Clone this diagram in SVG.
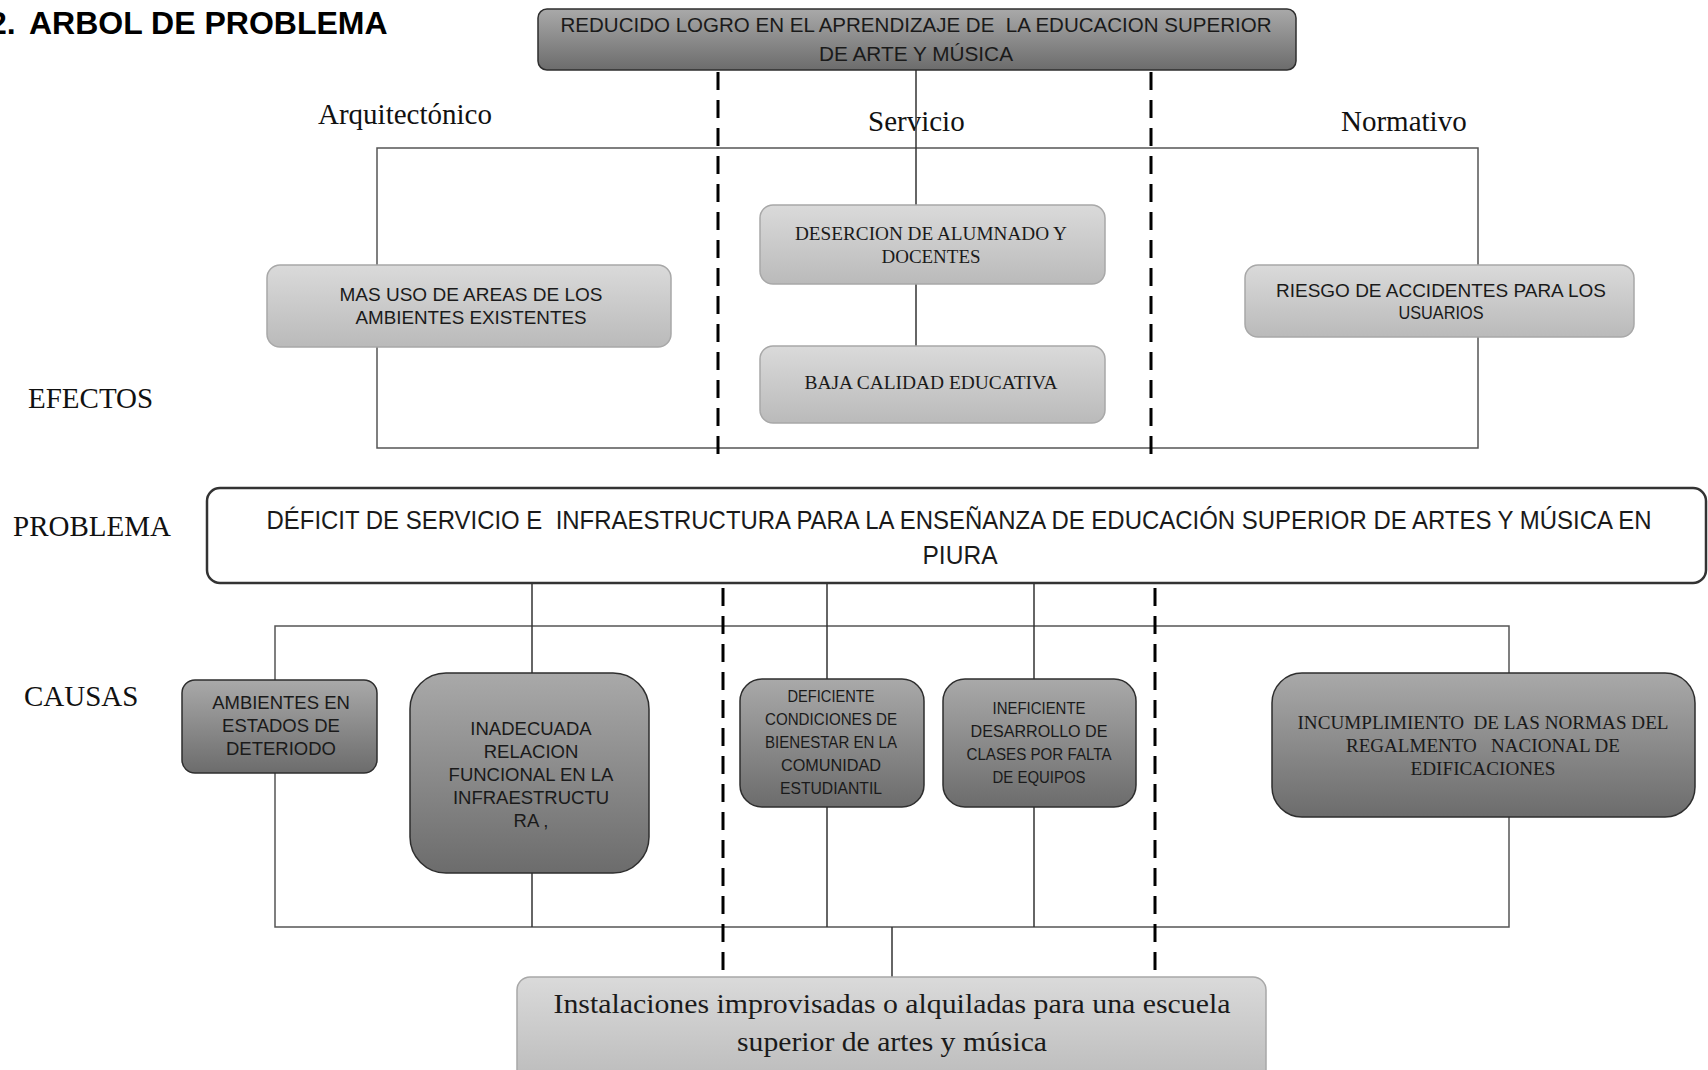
<svg xmlns="http://www.w3.org/2000/svg" width="1708" height="1070" viewBox="0 0 1708 1070">
<defs>
<linearGradient id="lightG" x1="0" y1="0" x2="0" y2="1"><stop offset="0" stop-color="#dadada"/><stop offset="1" stop-color="#bababa"/></linearGradient>
<linearGradient id="darkG" x1="0" y1="0" x2="0" y2="1"><stop offset="0" stop-color="#a9a9a9"/><stop offset="1" stop-color="#6c6c6c"/></linearGradient>
<style>
.light{fill:url(#lightG);stroke:#a8a8a8;stroke-width:1.5}
.dark{fill:url(#darkG);stroke:#2e2e2e;stroke-width:1.5}
.frame{fill:none;stroke:#555;stroke-width:1.5}
.conn{fill:none;stroke:#333;stroke-width:1.5}
.dash{fill:none;stroke:#000;stroke-width:3;stroke-dasharray:18 10}
.sans{font-family:"Liberation Sans",Arial,sans-serif;fill:#1a1a1a;text-anchor:middle}
.serif{font-family:"Liberation Serif","Times New Roman",serif;fill:#1a1a1a;text-anchor:middle}
.lbl{font-family:"Liberation Serif","Times New Roman",serif;font-size:29px;fill:#111}
</style>
</defs>
<rect width="1708" height="1070" fill="#fff"/>
<text font-family="Liberation Sans, Arial, sans-serif" font-weight="bold" font-size="32" fill="#000" y="34"><tspan x="-11">2.</tspan><tspan x="29">ARBOL DE PROBLEMA</tspan></text>

<g id="labels">
<text class="lbl" x="318" y="124">Arquitectónico</text>
<text class="lbl" x="868" y="131">Servicio</text>
<text class="lbl" x="1341" y="131">Normativo</text>
<text class="lbl" x="28" y="408">EFECTOS</text>
<text class="lbl" x="13" y="536">PROBLEMA</text>
<text class="lbl" x="24" y="706">CAUSAS</text>
</g>

<g id="connectors">
<rect class="frame" x="377" y="148" width="1101" height="300"/>
<line class="conn" x1="916" y1="70" x2="916" y2="205"/>
<line class="conn" x1="916" y1="284" x2="916" y2="346"/>
<rect class="frame" x="275" y="626" width="1234" height="301"/>
<line class="conn" x1="532" y1="583" x2="532" y2="927"/>
<line class="conn" x1="827" y1="583" x2="827" y2="927"/>
<line class="conn" x1="1034" y1="583" x2="1034" y2="927"/>
<line class="conn" x1="892" y1="927" x2="892" y2="977"/>
<line class="dash" x1="718" y1="72" x2="718" y2="455"/>
<line class="dash" x1="1151" y1="72" x2="1151" y2="455"/>
<line class="dash" x1="723" y1="588" x2="723" y2="977"/>
<line class="dash" x1="1155" y1="588" x2="1155" y2="977"/>
</g>

<g id="top">
<rect class="dark" x="538" y="9" width="758" height="61" rx="9"/>
<text class="sans" font-size="21" x="916" y="32" textLength="711" lengthAdjust="spacingAndGlyphs" xml:space="preserve">REDUCIDO LOGRO EN EL APRENDIZAJE DE  LA EDUCACION SUPERIOR</text>
<text class="sans" font-size="21" x="916" y="61" textLength="194" lengthAdjust="spacingAndGlyphs">DE ARTE Y MÚSICA</text>
</g>

<g id="mas-uso">
<rect class="light" x="267" y="265" width="404" height="82" rx="13"/>
<text class="sans" font-size="19" x="471" y="301" textLength="263" lengthAdjust="spacingAndGlyphs">MAS USO DE AREAS DE LOS</text>
<text class="sans" font-size="19" x="471" y="324" textLength="231" lengthAdjust="spacingAndGlyphs">AMBIENTES EXISTENTES</text>
</g>

<g id="desercion">
<rect class="light" x="760" y="205" width="345" height="79" rx="13"/>
<text class="serif" font-size="18" x="931" y="240" textLength="272" lengthAdjust="spacingAndGlyphs">DESERCION DE ALUMNADO Y</text>
<text class="serif" font-size="18" x="931" y="263" textLength="99" lengthAdjust="spacingAndGlyphs">DOCENTES</text>
</g>

<g id="baja">
<rect class="light" x="760" y="346" width="345" height="77" rx="13"/>
<text class="serif" font-size="18" x="931" y="389" textLength="253" lengthAdjust="spacingAndGlyphs">BAJA CALIDAD EDUCATIVA</text>
</g>

<g id="riesgo">
<rect class="light" x="1245" y="265" width="389" height="72" rx="13"/>
<text class="sans" font-size="18" x="1441" y="297" textLength="330" lengthAdjust="spacingAndGlyphs">RIESGO DE ACCIDENTES PARA LOS</text>
<text class="sans" font-size="18" x="1441" y="319" textLength="85" lengthAdjust="spacingAndGlyphs">USUARIOS</text>
</g>

<g id="problema">
<rect x="207" y="488" width="1499" height="95" rx="13" fill="#fff" stroke="#333" stroke-width="2.5"/>
<text class="sans" font-size="26" x="959" y="529" textLength="1385" lengthAdjust="spacingAndGlyphs" xml:space="preserve">DÉFICIT DE SERVICIO E  INFRAESTRUCTURA PARA LA ENSEÑANZA DE EDUCACIÓN SUPERIOR DE ARTES Y MÚSICA EN</text>
<text class="sans" font-size="26" x="960" y="564" textLength="75" lengthAdjust="spacingAndGlyphs">PIURA</text>
</g>

<g id="ambientes">
<rect class="dark" x="182" y="680" width="195" height="93" rx="13"/>
<text class="sans" font-size="18.5" x="281" y="709">AMBIENTES EN</text>
<text class="sans" font-size="18.5" x="281" y="732">ESTADOS DE</text>
<text class="sans" font-size="18.5" x="281" y="755">DETERIODO</text>
</g>

<g id="inadecuada">
<rect class="dark" x="410" y="673" width="239" height="200" rx="36"/>
<text class="sans" font-size="18.5" x="531" y="735">INADECUADA</text>
<text class="sans" font-size="18.5" x="531" y="758">RELACION</text>
<text class="sans" font-size="18.5" x="531" y="781">FUNCIONAL EN LA</text>
<text class="sans" font-size="18.5" x="531" y="804">INFRAESTRUCTU</text>
<text class="sans" font-size="18.5" x="531" y="827">RA ,</text>
</g>

<g id="deficiente">
<rect class="dark" x="740" y="679" width="184" height="128" rx="22"/>
<text class="sans" font-size="16" x="831" y="702" textLength="87" lengthAdjust="spacingAndGlyphs">DEFICIENTE</text>
<text class="sans" font-size="16" x="831" y="725" textLength="132" lengthAdjust="spacingAndGlyphs">CONDICIONES DE</text>
<text class="sans" font-size="16" x="831" y="748" textLength="132" lengthAdjust="spacingAndGlyphs">BIENESTAR EN LA</text>
<text class="sans" font-size="16" x="831" y="771" textLength="100" lengthAdjust="spacingAndGlyphs">COMUNIDAD</text>
<text class="sans" font-size="16" x="831" y="794" textLength="102" lengthAdjust="spacingAndGlyphs">ESTUDIANTIL</text>
</g>

<g id="ineficiente">
<rect class="dark" x="943" y="679" width="193" height="128" rx="22"/>
<text class="sans" font-size="16" x="1039" y="714" textLength="93" lengthAdjust="spacingAndGlyphs">INEFICIENTE</text>
<text class="sans" font-size="16" x="1039" y="737" textLength="137" lengthAdjust="spacingAndGlyphs">DESARROLLO DE</text>
<text class="sans" font-size="16" x="1039" y="760" textLength="145" lengthAdjust="spacingAndGlyphs">CLASES POR FALTA</text>
<text class="sans" font-size="16" x="1039" y="783" textLength="93" lengthAdjust="spacingAndGlyphs">DE EQUIPOS</text>
</g>

<g id="incumplimiento">
<rect class="dark" x="1272" y="673" width="423" height="144" rx="30"/>
<text class="serif" font-size="18" x="1483" y="729" textLength="371" lengthAdjust="spacingAndGlyphs" xml:space="preserve">INCUMPLIMIENTO  DE LAS NORMAS DEL</text>
<text class="serif" font-size="18" x="1483" y="752" textLength="274" lengthAdjust="spacingAndGlyphs" xml:space="preserve">REGALMENTO   NACIONAL DE</text>
<text class="serif" font-size="18" x="1483" y="775" textLength="145" lengthAdjust="spacingAndGlyphs">EDIFICACIONES</text>
</g>

<g id="instalaciones">
<rect class="light" x="517" y="977" width="749" height="110" rx="13"/>
<text class="serif" font-size="28" x="892" y="1013" textLength="677" lengthAdjust="spacingAndGlyphs">Instalaciones improvisadas o alquiladas para una escuela</text>
<text class="serif" font-size="28" x="892" y="1051" textLength="310" lengthAdjust="spacingAndGlyphs">superior de artes y música</text>
</g>
</svg>
